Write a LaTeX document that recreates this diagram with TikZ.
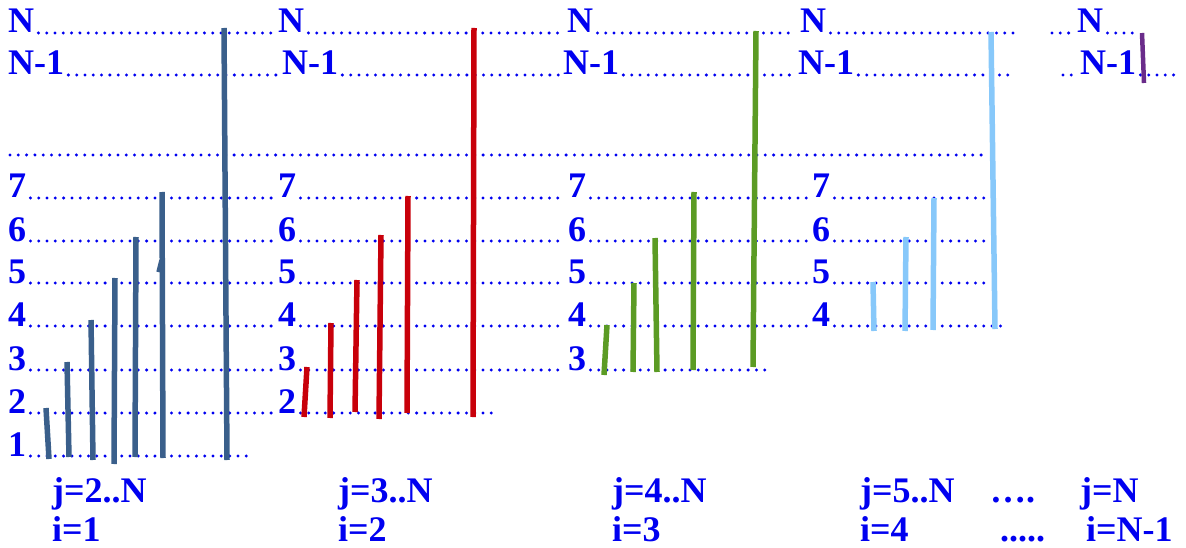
\documentclass[tikz,border=0pt]{standalone}
\usepackage{fontspec}
\setmainfont{Liberation Serif}
\usepackage{tikz}
\usetikzlibrary{positioning}
\definecolor{txtblue}{HTML}{0000F0}
\definecolor{barone}{HTML}{3A5F8B}
\definecolor{bartwo}{HTML}{C8000A}
\definecolor{barthree}{HTML}{5B9B24}
\definecolor{barfour}{HTML}{87C8FA}
\definecolor{barfive}{HTML}{6A2C8A}
\tikzset{
  lab/.style={font=\fontsize{36}{40}\selectfont\bfseries, text=txtblue,
              inner sep=0pt, anchor=base west},
  dotrow/.style={draw=txtblue, line width=3.3pt, line cap=round,
                 dash pattern=on 0pt off 8.3pt},
  bar/.style={line width=5.5pt}
}

\begin{document}
\begin{tikzpicture}[x=1pt,y=-1pt]
  \useasboundingbox (0,0) rectangle (1186,548);
  % Row labels, i=1
  \node[lab] (aN) at (8,33) {N};
  \node[lab] (aM) at (8,75) {N-1};
  \foreach \r/\y in {7/198,6/241,5/283,4/326,3/370,2/413,1/456}
    \node[lab] (a\r) at (8,\y) {\r};
  % Row labels, i=2
  \node[lab] (bN) at (278,33) {N};
  \node[lab] (bM) at (282,75) {N-1};
  \foreach \r/\y in {7/198,6/241,5/283,4/326,3/370,2/413}
    \node[lab] (b\r) at (278,\y) {\r};
  % Row labels, i=3
  \node[lab] (cN) at (567,33) {N};
  \node[lab] (cM) at (563,75) {N-1};
  \foreach \r/\y in {7/198,6/241,5/283,4/326,3/370}
    \node[lab] (c\r) at (568,\y) {\r};
  % Row labels, i=4
  \node[lab] (dN) at (800,33) {N};
  \node[lab] (dM) at (798,75) {N-1};
  \foreach \r/\y in {7/198,6/241,5/283,4/326}
    \node[lab] (d\r) at (812,\y) {\r};
  % Row labels, i=N-1
  \node[lab] (eN) at (1077,33) {N};
  \node[lab] (eM) at (1080,75) {N-1};
  % Loose row ends
  \coordinate (zN) at (1017,33);
  \coordinate (yN) at (1052,33);
  \coordinate (xN) at (1138,33);
  \coordinate (zM) at (1010,75);
  \coordinate (yM) at (1063,75);
  \coordinate (xM) at (1180,75);
  \coordinate (gapL) at (10,155);
  \coordinate (gapR) at (987,155);
  \coordinate (z7) at (990,198);
  \coordinate (z6) at (990,241);
  \coordinate (z5) at (990,283);
  \coordinate (z4) at (1003,326);
  \coordinate (z3) at (770,370);
  \coordinate (z2) at (498,413);
  \coordinate (z1) at (247,456);
  % Dotted rows
  \foreach \a/\b in {aN/bN, bN/cN, cN/dN, aM/bM, bM/cM, cM/dM,
                     a7/b7, b7/c7, c7/d7, a6/b6, b6/c6, c6/d6,
                     a5/b5, b5/c5, c5/d5, a4/b4, b4/c4, c4/d4,
                     a3/b3, b3/c3, a2/b2}
    \draw[dotrow] ([xshift=4pt]\a.base east) -- ([xshift=-4pt]\b.base west);
  \foreach \a/\b in {dN/zN, dM/zM, d7/z7, d6/z6, d5/z5, d4/z4,
                     c3/z3, b2/z2, a1/z1, eN/xN, eM/xM}
    \draw[dotrow] ([xshift=4pt]\a.base east) -- (\b);
  \foreach \a/\b in {yN/eN, yM/eM}
    \draw[dotrow] (\a) -- ([xshift=-4pt]\b.base west);
  \draw[dotrow] (gapL) -- (gapR);
  % Bars, i=1
  \foreach \xa/\ya/\xb/\yb in {46/408/49/459, 67/362/69/457, 91/320/93/460,
      115/278/114/464, 136/237/135/457, 162/192/163/458, 224/28/227/460}
    \draw[bar, barone] (\xa,\ya) -- (\xb,\yb);
  \draw[bar, barone, line width=3.5pt] (158,272) -- (161,260);
  % Bars, i=2
  \foreach \xa/\ya/\xb/\yb in {307/367/304/417, 331/323/330/418, 357/280/355/412,
      381/235/379/419, 408/196/407/413, 474/28/473/417}
    \draw[bar, bartwo] (\xa,\ya) -- (\xb,\yb);
  % Bars, i=3
  \foreach \xa/\ya/\xb/\yb in {607/325/604/375, 634/283/633/372, 655/238/657/372,
      694/192/693/370, 756/31/753/367}
    \draw[bar, barthree] (\xa,\ya) -- (\xb,\yb);
  % Bars, i=4
  \foreach \xa/\ya/\xb/\yb in {873/282/874/331, 906/237/905/331, 934/198/933/330,
      991/32/995/329}
    \draw[bar, barfour] (\xa,\ya) -- (\xb,\yb);
  % Bar, i=N-1
  \draw[bar, barfive, line width=4.5pt] (1142,33) -- (1144,83);
  % Ranges
  \node[lab] (j1) at (52,502) {j=2..N};
  \node[lab] (i1) at (52,541) {i=1};
  \node[lab] (j2) at (338,502) {j=3..N};
  \node[lab] (i2) at (338,541) {i=2};
  \node[lab] (j3) at (612,502) {j=4..N};
  \node[lab] (i3) at (612,541) {i=3};
  \node[lab] (j4) at (860,502) {j=5..N};
  \node[lab] (i4) at (860,541) {i=4};
  \node[lab] (jd) at (990,502) {….};
  \node[lab] (id) at (1000,541) {.....};
  \node[lab] (j5) at (1080,502) {j=N};
  \node[lab] (i5) at (1086,541) {i=N-1};
\end{tikzpicture}
\end{document}
